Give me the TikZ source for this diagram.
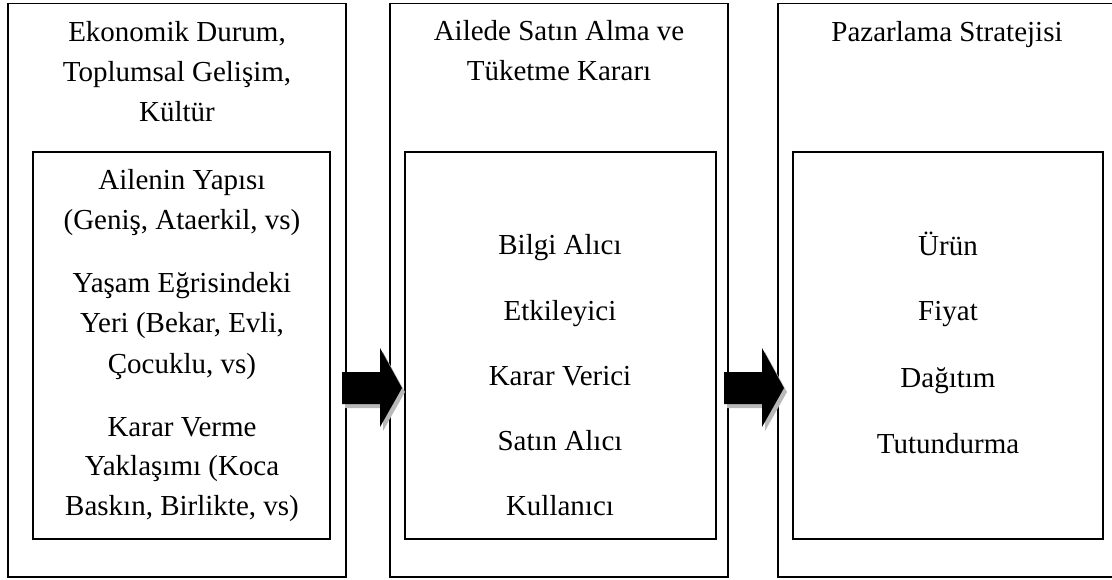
\documentclass[tikz,border=0pt]{standalone}
\usepackage{fontspec}
\setmainfont{Liberation Serif}
\tikzset{
  frame/.style={draw=black, line width=1.4pt},
  txt/.style={anchor=base, inner sep=0pt, font=\fontsize{29}{40}\selectfont},
  blockarr/.pic={
    \fill[gray!55] (3,-12) -- (41,-12) -- (41,-36) -- (63,4) -- (41,43) -- (41,20) -- (3,20) -- cycle;
    \fill[black] (0,-16) -- (38,-16) -- (38,-40) -- (60,0) -- (38,39) -- (38,16) -- (0,16) -- cycle;
    \coordinate (-tail) at (0,0);
    \coordinate (-tip) at (60,0);
  }
}
\begin{document}
\begin{tikzpicture}[x=1pt,y=-1pt]
\useasboundingbox (0,0) rectangle (1112,580);
\fill[white] (0,0) rectangle (1112,580);

% outer frames
\draw[frame] (8,3.5) rectangle (346,577) coordinate (b1);
\draw[frame] (390,3.5) rectangle (728,577) coordinate (b2);
\draw[frame] (778,3.5) rectangle (1118,577) coordinate (b3);
% inner frames
\draw[frame] (33,152) rectangle (330,539) coordinate (i1);
\draw[frame] (405,152) rectangle (716,539) coordinate (i2);
\draw[frame] (793,152) rectangle (1103,539) coordinate (i3);

% box 1 header
\node[txt] (h1a) at (177,41.5) {Ekonomik Durum,};
\node[txt] (h1b) at (177,81.5) {Toplumsal Gelişim,};
\node[txt] (h1c) at (177,121.5) {Kültür};
% box 1 inner
\node[txt] (t1a) at (182,190) {Ailenin Yapısı};
\node[txt] (t1b) at (182,230) {(Geniş, Ataerkil, vs)};
\node[txt] (t1c) at (182,293) {Yaşam Eğrisindeki};
\node[txt] (t1d) at (182,333) {Yeri (Bekar, Evli,};
\node[txt] (t1e) at (182,373) {Çocuklu, vs)};
\node[txt] (t1f) at (182,436) {Karar Verme};
\node[txt] (t1g) at (182,475) {Yaklaşımı (Koca};
\node[txt] (t1h) at (182,515) {Baskın, Birlikte, vs)};

% box 2 header
\node[txt] (h2a) at (559,41) {Ailede Satın Alma ve};
\node[txt] (h2b) at (559,81) {Tüketme Kararı};
% box 2 inner
\node[txt] (t2a) at (560,255) {Bilgi Alıcı};
\node[txt] (t2b) at (560,320) {Etkileyici};
\node[txt] (t2c) at (560,385) {Karar Verici};
\node[txt] (t2d) at (560,450) {Satın Alıcı};
\node[txt] (t2e) at (560,515) {Kullanıcı};

% box 3 header
\node[txt] (h3a) at (947,42) {Pazarlama Stratejisi};
% box 3 inner
\node[txt] (t3a) at (948,256) {Ürün};
\node[txt] (t3b) at (948,321) {Fiyat};
\node[txt] (t3c) at (948,387) {Dağıtım};
\node[txt] (t3d) at (948,453) {Tutundurma};

% block arrows
\pic (a1) at (342,388) {blockarr};
\pic (a2) at (724,388) {blockarr};
\end{tikzpicture}
\end{document}
